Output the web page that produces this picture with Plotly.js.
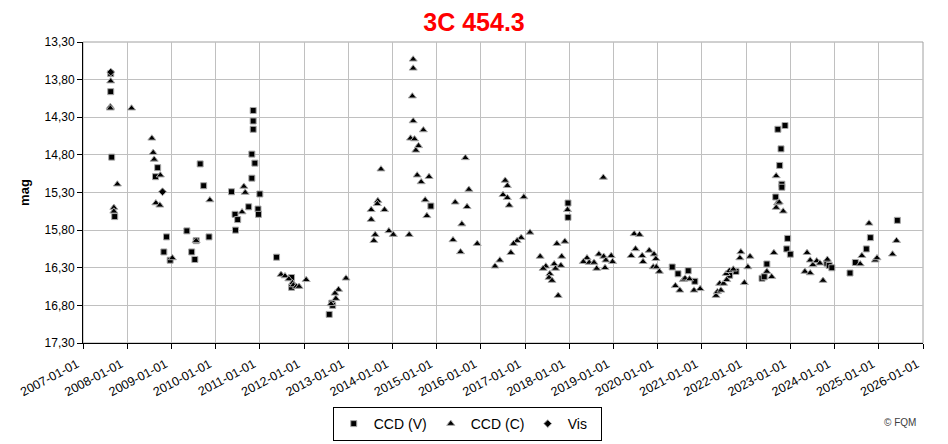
<!DOCTYPE html>
<html>
<head>
<meta charset="utf-8">
<script src="https://cdn.plot.ly/plotly-3.0.1.min.js"></script>
<style>html,body{margin:0;padding:0;background:#fff;}#chart{width:948px;height:444px;}</style>
</head>
<body>
<div id="chart"></div>
<script>
// Decimal-year dates and magnitudes
const ccdV_t = [2007.63,2007.63,2007.65,2007.72,2008.69,2008.64,2008.89,2008.83,2008.97,2009.35,2009.56,2009.46,2009.53,2009.65,2009.73,2009.85,
  2010.36,2010.44,2010.50,2010.45,2010.75,2010.85,2010.85,2010.85,2010.82,2010.89,2010.82,2011.00,2010.96,2010.97,2011.38,2011.72,2011.72,
  2012.63,2012.65,2012.57,2014.87,2017.97,2017.97,2020.33,2020.46,2020.69,2020.84,2021.63,2021.77,2022.36,2022.41,2022.47,2022.67,2022.72,
  2022.88,2022.79,2022.76,2022.81,2022.81,2022.94,2022.92,2023.00,2023.83,2023.88,2023.94,2024.35,2024.47,2024.72,2024.81,2025.42];
const ccdV_mag = [13.72,13.96,14.83,15.62,14.97,15.09,15.89,16.09,16.20,15.81,15.94,16.09,16.19,14.92,15.21,15.89,
  15.29,15.59,15.66,15.80,15.49,14.21,14.35,14.46,14.79,14.91,15.11,15.32,15.52,15.59,16.16,16.43,16.56,
  16.77,16.80,16.92,15.48,15.44,15.63,16.29,16.38,16.34,16.48,16.40,16.35,16.44,16.42,16.25,15.36,14.46,
  14.41,14.72,14.94,15.19,15.23,15.91,16.05,16.12,16.24,16.27,16.30,16.37,16.23,16.05,15.90,15.67];

const ccdC_t = [2007.63,2007.62,2007.62,2008.10,2007.78,2007.70,2007.70,2008.56,2008.59,2008.61,2008.75,2008.65,2008.74,2009.02,2009.56,2009.87,
  2010.64,2010.67,2010.60,2011.48,2011.57,2011.66,2011.74,2011.76,2011.83,2011.89,2012.05,2012.95,2012.78,2012.70,2012.72,2012.61,
  2013.74,2013.67,2013.66,2013.52,2013.82,2013.52,2013.61,2013.58,2013.92,2014.02,2014.38,
  2014.47,2014.47,2014.45,2014.47,2014.70,2014.41,2014.50,2014.59,2014.53,2014.56,2014.83,2014.65,2014.74,2014.78,
  2015.65,2015.73,2015.42,2015.69,2015.57,2015.37,2015.54,2015.92,
  2016.55,2016.60,2016.50,2016.60,2016.64,2016.97,2017.11,2016.91,2016.82,2016.74,2016.68,2016.43,2016.32,
  2017.96,2017.90,2017.72,2017.34,2017.83,2017.47,2017.41,2017.66,2017.69,2017.81,2017.56,2017.54,2017.61,2017.75,
  2018.77,2018.40,2018.32,2018.45,2018.56,2018.67,2018.62,2018.78,2018.83,2018.81,2018.95,2018.98,
  2019.47,2019.59,2019.50,2019.40,2019.81,2019.92,2019.65,2019.96,2019.67,2019.90,2019.97,2020.04,2020.40,2020.50,
  2020.58,2020.62,2020.72,2020.82,2020.96,2021.32,2021.35,2021.40,2021.43,2021.49,2021.56,2021.55,2021.62,2021.71,
  2021.86,2021.88,2021.96,2022.04,2022.09,2022.47,2022.58,2022.63,2022.68,2022.71,2022.75,2022.68,2022.84,
  2023.38,2023.45,2023.51,2023.60,2023.67,2023.33,2023.45,2023.74,2023.84,2024.58,2024.62,2024.78,2024.92,2024.96,2025.31,2025.40];
const ccdC_mag = [13.82,14.16,14.18,14.18,15.19,15.50,15.55,14.58,14.77,14.86,15.07,15.44,15.47,16.17,15.94,15.40,
  15.22,15.30,15.56,16.39,16.41,16.45,16.50,16.53,16.55,16.55,16.46,16.44,16.59,16.64,16.71,16.78,
  14.99,15.41,15.45,15.53,15.53,15.66,15.86,15.94,15.81,15.86,15.86,
  13.53,13.65,14.02,14.35,14.47,14.58,14.59,14.68,14.74,15.07,15.09,15.16,15.40,15.61,
  14.84,15.26,15.43,15.49,15.72,15.93,16.09,15.98,
  15.14,15.21,15.33,15.37,15.47,15.36,15.83,15.90,15.94,15.98,16.10,16.20,16.28,
  15.53,15.95,15.98,16.15,16.15,16.28,16.31,16.25,16.31,16.27,16.38,16.43,16.47,16.67,
  15.10,16.17,16.22,16.23,16.23,16.12,16.31,16.15,16.20,16.30,16.14,16.22,
  15.85,15.86,16.05,16.14,16.07,16.12,16.14,16.18,16.22,16.29,16.29,16.35,16.54,16.60,
  16.46,16.44,16.45,16.60,16.58,16.67,16.62,16.51,16.60,16.51,16.46,16.38,16.34,16.32,
  16.17,16.09,16.50,16.29,16.15,16.35,16.42,16.10,15.08,15.44,15.43,15.50,15.55,
  16.10,16.20,16.26,16.21,16.24,16.35,16.37,16.47,16.19,16.25,16.14,15.71,16.20,16.17,16.12,15.94];

const vis_t = [2007.63,2008.80];
const vis_mag = [13.70,15.29];

const yearTicks = [2007,2008,2009,2010,2011,2012,2013,2014,2015,2016,2017,2018,2019,2020,2021,2022,2023,2024,2025,2026];

function toDate(y){
  const yr = Math.floor(y);
  const s = Date.UTC(yr,0,1), e = Date.UTC(yr+1,0,1);
  return new Date(s + (y-yr)*(e-s)).toISOString().slice(0,10);
}
const tickVals = yearTicks.map(y => y + '-01-01');
const tickText = tickVals.map(t => t + '\u00a0\u00a0');

const mk = (sym, size) => ({symbol: sym, size: size, color: '#000000', line: {color: '#a8a8a8', width: 1}});

const traces = [
  {type:'scatter', mode:'markers', name:'CCD (V)', x: ccdV_t.map(toDate), y: ccdV_mag, marker: mk('square',6)},
  {type:'scatter', mode:'markers', name:'CCD (C)', x: ccdC_t.map(toDate), y: ccdC_mag, marker: mk('triangle-up',7)},
  {type:'scatter', mode:'markers', name:'Vis', x: vis_t.map(toDate), y: vis_mag, marker: mk('diamond',6), legendwidth: 28}
];

const font = 'Liberation Sans, Arial, sans-serif';
const layout = {
  width: 948, height: 444,
  margin: {l: 83, r: 25, t: 42, b: 101},
  paper_bgcolor: '#ffffff', plot_bgcolor: '#ffffff',
  separators: ',.',
  font: {family: font, size: 12, color: '#000'},
  showlegend: true,
  title: {text: '<b>3C 454.3</b>', font: {family: font, size: 25, color: '#ff0000'}, x: 0.5, xref: 'container', y: 0.95, yref: 'container', yanchor: 'middle'},
  xaxis: {
    type: 'date', range: ['2007-01-01','2026-01-01'],
    tickmode: 'array', tickvals: tickVals, ticktext: tickText,
    tickangle: -28, tickfont: {family: font, size: 12.5},
    showgrid: true, gridcolor: '#c0c0c0', gridwidth: 1,
    showline: true, linecolor: '#000', linewidth: 1,
    ticks: 'outside', ticklen: 5, tickcolor: '#000',
    zeroline: false, automargin: false
  },
  yaxis: {
    range: [17.3, 13.3], tickmode: 'linear', tick0: 13.3, dtick: 0.5, tickformat: '.2f',
    tickfont: {family: font, size: 12},
    title: {text: '<b>mag</b>', font: {family: font, size: 13}, standoff: 12},
    showgrid: true, gridcolor: '#c0c0c0', gridwidth: 1,
    showline: true, linecolor: '#000', linewidth: 1,
    ticks: 'outside', ticklen: 5, tickcolor: '#000',
    zeroline: false, automargin: false
  },
  legend: {
    orientation: 'h', xref: 'container', yref: 'container', x: 0.351, xanchor: 'left', y: 0.0833, yanchor: 'top',
    bordercolor: '#000', borderwidth: 1, bgcolor: '#fff',
    font: {family: font, size: 14}, entrywidth: 52, entrywidthmode: 'pixels'
  },
  shapes: [
    {type:'rect', xref:'paper', yref:'paper', x0:0, x1:1, y0:0, y1:1, line:{color:'#a0a0a0', width:1}, layer:'below'}
  ],
  annotations: [
    {text: '© FQM', xref:'paper', yref:'paper', x: 0.994, xanchor:'right', y: -0.265, yanchor:'middle', showarrow:false, font:{family: font, size: 10, color:'#404040'}}
  ]
};

Plotly.newPlot('chart', traces, layout, {displayModeBar: false, staticPlot: true});
</script>
</body>
</html>
